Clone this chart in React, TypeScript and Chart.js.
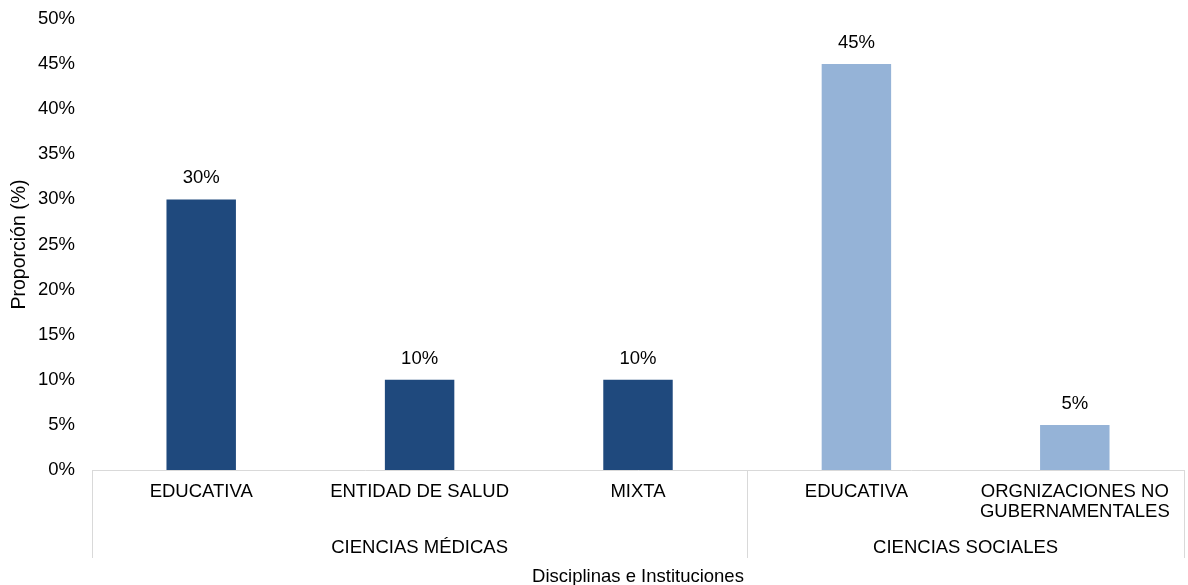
import React, { useEffect, useRef } from "react";
import { Chart, registerables } from "chart.js";

Chart.register(...registerables);

const categories: (string | string[])[] = [
  "EDUCATIVA",
  "ENTIDAD DE SALUD",
  "MIXTA",
  "EDUCATIVA",
  ["ORGNIZACIONES NO", "GUBERNAMENTALES"],
];
const groupOfCategory = [0, 0, 0, 1, 1];
const groups = ["CIENCIAS MÉDICAS", "CIENCIAS SOCIALES"];
const groupColors = ["#1F497D", "#95B3D7"];
const values = [30, 10, 10, 45, 5];
const yTicks = [0, 5, 10, 15, 20, 25, 30, 35, 40, 45, 50];
const xTitle = "Disciplinas e Instituciones";
const yTitle = "Proporción (%)";

const FONT = "'Liberation Sans', Arial, sans-serif";
const FS = 18.5;

const extrasPlugin = {
  id: "extras",
  afterDraw(chart: any) {
    const ctx = chart.ctx;
    const x = chart.scales.x;
    const ca = chart.chartArea;
    const meta = chart.getDatasetMeta(0);
    ctx.save();
    ctx.font = `${FS}px ${FONT}`;
    ctx.fillStyle = "#000000";
    ctx.textAlign = "center";
    ctx.textBaseline = "middle";
    // data labels
    meta.data.forEach((bar: any, i: number) => {
      ctx.fillText(values[i] + "%", bar.x, bar.y - 21);
    });
    // group separators + labels
    const step = x.getPixelForValue(1) - x.getPixelForValue(0);
    const lineBottom = ca.bottom + 88;
    ctx.strokeStyle = "#D9D9D9";
    ctx.lineWidth = 1;
    const bounds: number[] = [];
    groupOfCategory.forEach((g, i) => {
      if (i === 0 || groupOfCategory[i - 1] !== g) bounds.push(i);
    });
    bounds.push(groupOfCategory.length);
    for (let b = 0; b < bounds.length; b++) {
      const px = Math.round(x.getPixelForValue(bounds[b]) - step / 2) + 0.5;
      ctx.beginPath();
      ctx.moveTo(px, ca.bottom);
      ctx.lineTo(px, lineBottom);
      ctx.stroke();
    }
    for (let b = 0; b < bounds.length - 1; b++) {
      const a = x.getPixelForValue(bounds[b]) - step / 2;
      const c = x.getPixelForValue(bounds[b + 1]) - step / 2;
      ctx.fillText(groups[groupOfCategory[bounds[b]]], (a + c) / 2, ca.bottom + 78);
    }
    // axis titles
    ctx.fillText(xTitle, (ca.left + ca.right) / 2, ca.bottom + 107);
    ctx.font = `19.5px ${FONT}`;
    ctx.translate(20, (ca.top + ca.bottom) / 2);
    ctx.rotate(-Math.PI / 2);
    ctx.fillText(yTitle, 0, 0);
    ctx.restore();
  },
};

export default function App() {
  const ref = useRef<HTMLCanvasElement | null>(null);
  useEffect(() => {
    if (!ref.current) return;
    const chart = new Chart(ref.current, {
      type: "bar",
      data: {
        labels: categories as any,
        datasets: [
          {
            data: values,
            backgroundColor: groupOfCategory.map((g) => groupColors[g]),
            categoryPercentage: 1,
            barPercentage: 0.318,
          },
        ],
      },
      options: {
        responsive: false,
        animation: false,
        layout: { padding: { top: 19, right: 4, left: 0, bottom: 0 } },
        plugins: {
          legend: { display: false },
          tooltip: { enabled: false },
        },
        scales: {
          x: {
            grid: { display: false, drawTicks: false },
            border: { display: true, color: "#D9D9D9", width: 1 },
            ticks: {
              color: "#000000",
              font: { family: FONT, size: FS, lineHeight: 1.08 },
              padding: 12,
              maxRotation: 0,
              autoSkip: false,
            },
            afterFit(scale: any) {
              scale.height = 115;
            },
          },
          y: {
            min: 0,
            max: 50,
            afterBuildTicks(scale: any) {
              scale.ticks = yTicks.map((v) => ({ value: v }));
            },
            grid: { display: false, drawTicks: false },
            border: { display: false },
            ticks: {
              color: "#000000",
              font: { family: FONT, size: FS },
              padding: 17,
              callback: (v: any) => v + "%",
            },
            afterFit(scale: any) {
              scale.width = 92;
              scale.paddingTop = 0;
              scale.paddingBottom = 0;
            },
          },
        },
      },
      plugins: [extrasPlugin],
    });
    return () => chart.destroy();
  }, []);
  return (
    <div style={{ position: "fixed", left: 0, top: 0, width: 1188, height: 585, background: "#fff" }}>
      <canvas ref={ref} width={1188} height={585} style={{ display: "block" }} />
    </div>
  );
}
